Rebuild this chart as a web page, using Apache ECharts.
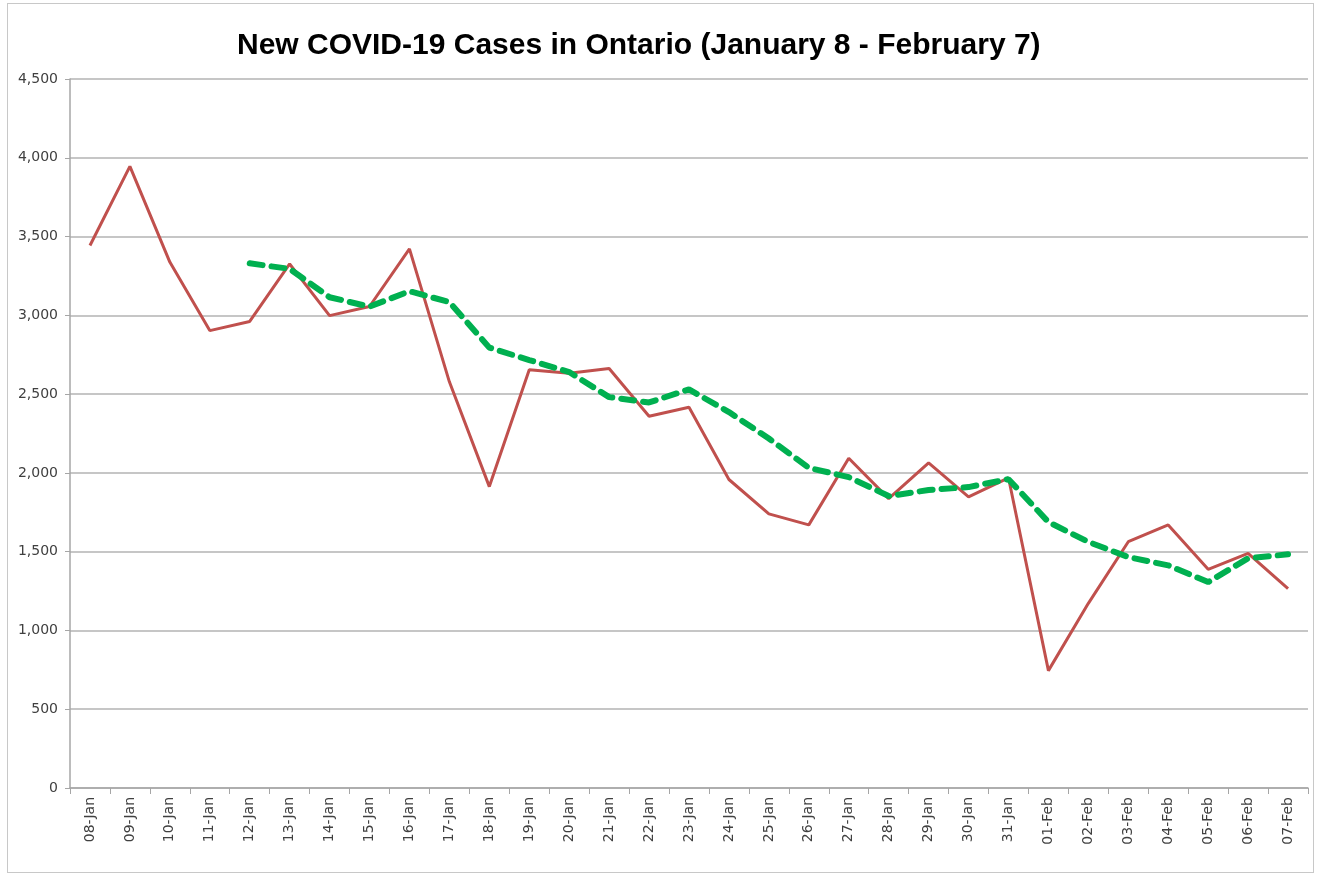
<!DOCTYPE html>
<html>
<head>
<meta charset="utf-8">
<script src="https://cdn.jsdelivr.net/npm/echarts@6/dist/echarts.min.js"></script>
<style>
  html, body { margin: 0; padding: 0; background: #fff; }
  #frame { position: absolute; left: 7px; top: 3px; width: 1305px; height: 868px; border: 1px solid #c8c8c8; }
  #chart { position: absolute; left: 0; top: 0; width: 1320px; height: 878px; }
</style>
</head>
<body>
<div id="frame"></div>
<div id="chart"></div>
<script>
// dates on the x axis
const days = [
  "08-Jan", "09-Jan", "10-Jan", "11-Jan", "12-Jan", "13-Jan", "14-Jan", "15-Jan",
  "16-Jan", "17-Jan", "18-Jan", "19-Jan", "20-Jan", "21-Jan", "22-Jan", "23-Jan",
  "24-Jan", "25-Jan", "26-Jan", "27-Jan", "28-Jan", "29-Jan", "30-Jan", "31-Jan",
  "01-Feb", "02-Feb", "03-Feb", "04-Feb", "05-Feb", "06-Feb", "07-Feb"
];

// daily new cases (red line)
const newCases = [
  3443, 3945, 3338, 2903, 2961, 3326, 2998, 3056,
  3422, 2578, 1913, 2655, 2632, 2662, 2359, 2417,
  1958, 1740, 1670, 2093, 1837, 2063, 1848, 1969,
  745, 1172, 1563, 1670, 1388, 1489, 1265
];

// average trend (green dashed), starts on 12-Jan
const avgCases = [
  null, null, null, null, 3330, 3295, 3115, 3055,
  3153, 3084, 2795, 2716, 2640, 2481, 2447, 2530,
  2386, 2218, 2032, 1973, 1853, 1891, 1910, 1960,
  1688, 1562, 1466, 1413, 1307, 1458, 1483
];

const yMin = 0;
const yMax = 4500;
const yStep = 500;

const chart = echarts.init(document.getElementById("chart"));

chart.setOption({
  animation: false,
  title: {
    text: "New COVID-19 Cases in Ontario (January 8 - February 7)",
    left: 232,
    top: 26,
    textStyle: {
      fontFamily: "Liberation Sans Narrow, Liberation Sans, sans-serif",
      fontSize: 30,
      fontWeight: "bold",
      color: "#000"
    }
  },
  grid: {
    left: 70,
    right: 12,
    top: 79,
    bottom: 90
  },
  xAxis: {
    type: "category",
    data: days,
    boundaryGap: true,
    axisLine: { lineStyle: { color: "#a6a6a6", width: 1.5 } },
    axisTick: { show: true, length: 6, lineStyle: { color: "#a6a6a6" } },
    axisLabel: {
      interval: 0,
      rotate: 90,
      margin: 9,
      color: "#404040",
      fontFamily: "DejaVu Sans, sans-serif",
      fontSize: 14
    }
  },
  yAxis: {
    type: "value",
    min: yMin,
    max: yMax,
    interval: yStep,
    axisLine: { show: true, lineStyle: { color: "#a6a6a6", width: 1.5 } },
    axisTick: { show: true, length: 5, lineStyle: { color: "#a6a6a6" } },
    splitLine: { lineStyle: { color: "#b3b3b3", width: 1.5 } },
    axisLabel: {
      margin: 12,
      color: "#404040",
      fontFamily: "DejaVu Sans, sans-serif",
      fontSize: 14,
      formatter: function (v) {
        return v.toLocaleString("en-US");
      }
    }
  },
  series: [
    {
      name: "New cases",
      type: "line",
      data: newCases,
      symbol: "none",
      lineStyle: { color: "#c0504d", width: 3 }
    },
    {
      name: "Average",
      type: "line",
      data: avgCases,
      symbol: "none",
      lineStyle: { color: "#00b050", width: 6, type: [13, 9], cap: "round" }
    }
  ]
});
</script>
</body>
</html>
